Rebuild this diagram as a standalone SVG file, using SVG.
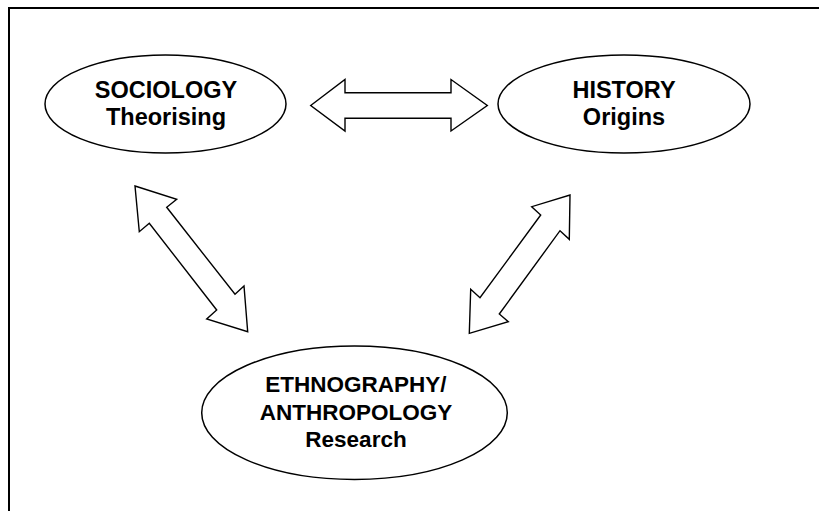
<svg xmlns="http://www.w3.org/2000/svg" width="819" height="511" viewBox="0 0 819 511">
<style>
.node ellipse{fill:#fff;stroke:#000;stroke-width:1.5}
.node text{font-family:"Liberation Sans",Arial,sans-serif;font-weight:bold;font-size:22.5px;fill:#000;text-anchor:middle}
.node text.big{font-size:23.5px}
.arrow{fill:#fff;stroke:#000;stroke-width:1.4;stroke-linejoin:miter}
.frame{stroke:#000;stroke-width:2;fill:none}
</style>
<rect width="819" height="511" fill="#fff"/>
<g id="frame">
<line class="frame" x1="9" y1="8" x2="819" y2="8"/>
<line class="frame" x1="9" y1="7" x2="9" y2="511"/>
</g>
<g id="connectors">
<polygon class="arrow" points="310.7,105.5 345,79.5 345,92.7 451,92.7 451,79.5 487.3,105.5 451,131 451,118.3 345,118.3 345,131"/>
<polygon class="arrow" points="135,186 176.7,199.3 166.7,207.3 235,294.3 244,286 247.7,331.7 206.7,319 216.7,310 149.3,223.3 139.3,231.7"/>
<polygon class="arrow" points="570,195 569.3,239.3 560,230.7 499.3,314 508.3,321.7 469.3,333.3 470.7,289.3 480,297.7 540.7,215 531.7,206.7"/>
</g>
<g id="sociology" class="node">
<ellipse cx="165.5" cy="104" rx="120.5" ry="49"/>
<text class="big" x="166" y="97.5">SOCIOLOGY</text>
<text class="big" x="166" y="124.5">Theorising</text>
</g>
<g id="history" class="node">
<ellipse cx="624" cy="104" rx="126" ry="49"/>
<text class="big" x="624" y="97.5">HISTORY</text>
<text class="big" x="624" y="124.5">Origins</text>
</g>
<g id="ethnography" class="node">
<ellipse cx="354.5" cy="412.7" rx="152.8" ry="66.7"/>
<text x="356" y="391.7">ETHNOGRAPHY/</text>
<text x="356" y="419.5">ANTHROPOLOGY</text>
<text x="356" y="446.7">Research</text>
</g>
</svg>
